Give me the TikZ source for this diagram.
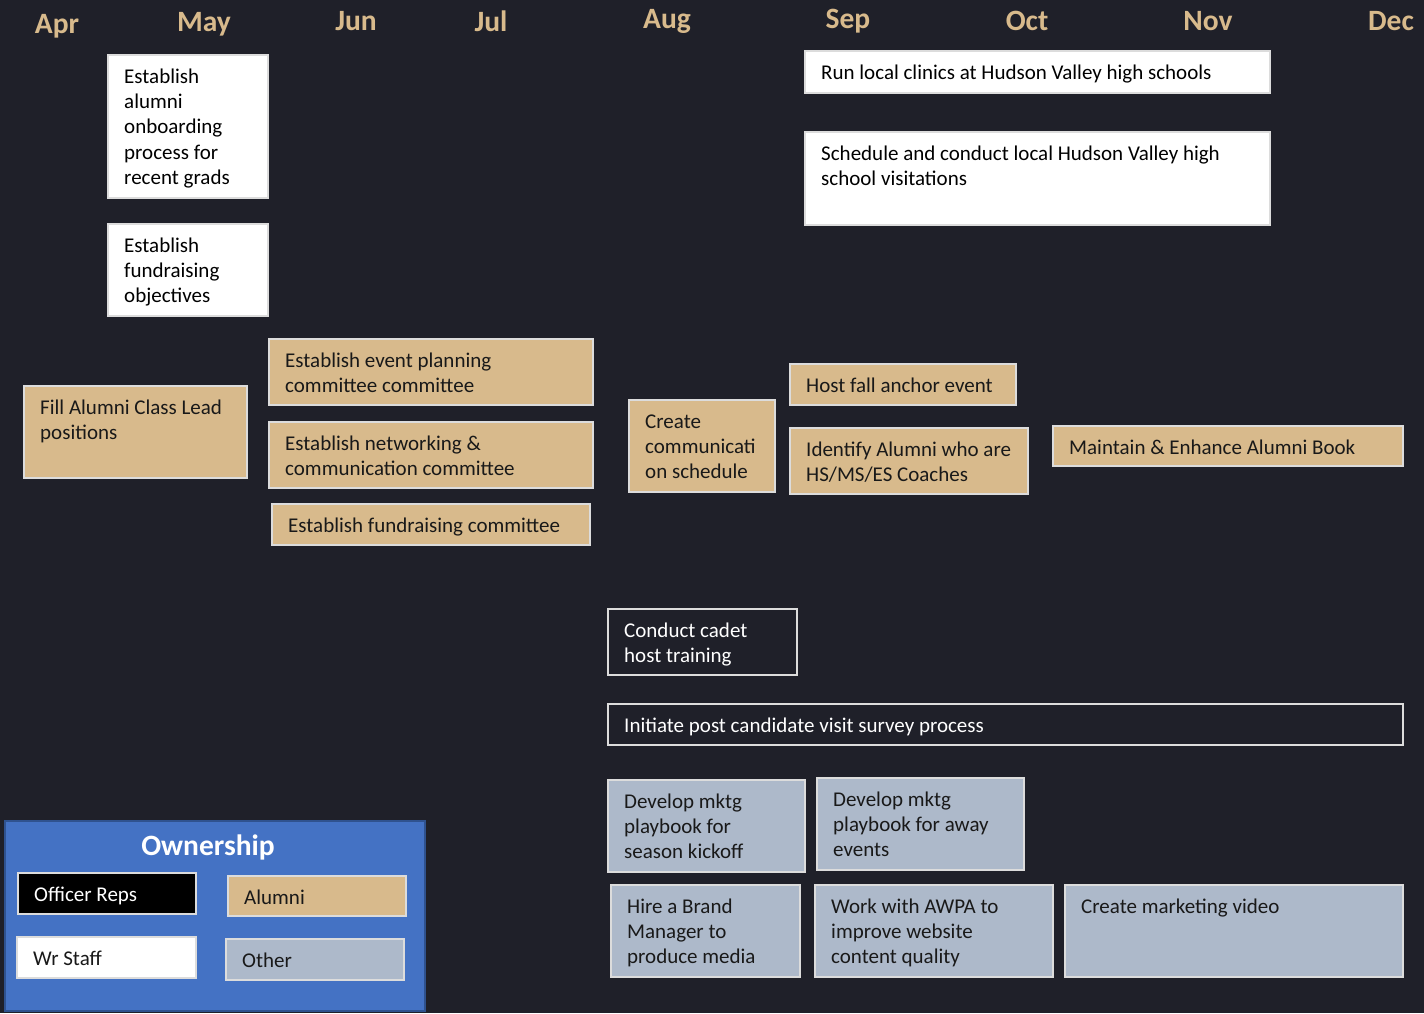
\documentclass[tikz,border=0pt]{standalone}
\usepackage{fontspec}
\setmainfont{Carlito}
\definecolor{bg}{RGB}{31,32,41}
\definecolor{tan}{RGB}{216,186,140}
\definecolor{oth}{RGB}{173,185,202}
\definecolor{legblue}{RGB}{68,114,196}
\definecolor{legedge}{RGB}{47,82,143}
\definecolor{edge}{RGB}{220,220,220}
\definecolor{ink}{RGB}{25,25,25}
\tikzset{
  boxbase/.style={rectangle, draw=edge, line width=1.3pt, inner sep=0pt, outer sep=0pt},
  wbox/.style={boxbase, fill=white},
  tbox/.style={boxbase, fill=tan},
  obox/.style={boxbase, fill=bg},
  gbox/.style={boxbase, fill=oth},
  blkbox/.style={boxbase, fill=black},
  lbl/.style={inner sep=0pt, align=left, font=\fontsize{21}{25.3}\selectfont},
  month/.style={text=tan, font=\fontsize{29.5}{32}\selectfont\bfseries, inner sep=0pt}
}
\newcommand\tb[8]{%
  \node[#2, minimum width=#6-#4, minimum height=#7-#5, anchor=north west] (#1) at (#4,#5) {};
  \node[lbl, text=#3, anchor=north west] (#1t) at (#4+16,#5+10.3) {\strut #8};
}
\begin{document}
\begin{tikzpicture}[x=1pt,y=-1pt]
\fill[bg] (0,0) rectangle (1424,1013);
\useasboundingbox (0,0) rectangle (1424,1013);
% months
\node[month] (apr) at (57,26) {Apr};
\node[month] (may) at (204,24) {May};
\node[month] (jun) at (356,21) {Jun};
\node[month] (jul) at (491,21) {Jul};
\node[month] (aug) at (667,21) {Aug};
\node[month] (sep) at (848,21) {Sep};
\node[month] (oct) at (1027,21) {Oct};
\node[month] (nov) at (1208,21) {Nov};
\node[month] (dec) at (1391,21) {Dec};
% white boxes
\tb{w1}{wbox}{black}{108}{55}{268}{198}{Establish\\alumni\\onboarding\\process for\\recent grads}
\tb{w2}{wbox}{black}{108}{224}{268}{316}{Establish\\fundraising\\objectives}
\tb{w3}{wbox}{black}{805}{51}{1270}{93}{Run local clinics at Hudson Valley high schools}
\tb{w4}{wbox}{black}{805}{132}{1270}{225}{Schedule and conduct local Hudson Valley high\\school visitations}
% tan boxes
\tb{a1}{tbox}{ink}{24}{386}{247}{478}{Fill Alumni Class Lead\\positions}
\tb{a2}{tbox}{ink}{269}{339}{593}{405}{Establish event planning\\committee committee}
\tb{a3}{tbox}{ink}{269}{422}{593}{488}{Establish networking \&\\communication committee}
\tb{a4}{tbox}{ink}{272}{504}{590}{545}{Establish fundraising committee}
\tb{a5}{tbox}{ink}{629}{400}{775}{492}{Create\\communicati\\on schedule}
\tb{a6}{tbox}{ink}{790}{364}{1016}{405}{Host fall anchor event}
\tb{a7}{tbox}{ink}{790}{428}{1028}{494}{Identify Alumni who are\\HS/MS/ES Coaches}
\tb{a8}{tbox}{ink}{1053}{426}{1403}{466}{Maintain \& Enhance Alumni Book}
% officer boxes
\tb{o1}{obox}{white}{608}{609}{797}{675}{Conduct cadet\\host training}
\tb{o2}{obox}{white}{608}{704}{1403}{745}{Initiate post candidate visit survey process}
% other boxes
\tb{g1}{gbox}{ink}{608}{780}{805}{872}{Develop mktg\\playbook for\\season kickoff}
\tb{g2}{gbox}{ink}{817}{778}{1024}{870}{Develop mktg\\playbook for away\\events}
\tb{g3}{gbox}{ink}{611}{885}{800}{977}{Hire a Brand\\Manager to\\produce media}
\tb{g4}{gbox}{ink}{815}{885}{1053}{977}{Work with AWPA to\\improve website\\content quality}
\tb{g5}{gbox}{ink}{1065}{885}{1403}{977}{Create marketing video}
% legend
\node[rectangle, fill=legblue, draw=legedge, line width=1.5pt, minimum width=420, minimum height=190, anchor=north west, inner sep=0pt] (leg) at (4,820) {};
\node[text=white, font=\fontsize{29.5}{32}\selectfont\bfseries, inner sep=0pt] (legt) at (208,847) {Ownership};
\tb{l1}{blkbox}{white}{18}{873}{196}{914}{Officer Reps}
\tb{l2}{tbox}{ink}{228}{876}{406}{916}{Alumni}
\tb{l3}{wbox}{ink}{17}{937}{196}{978}{Wr Staff}
\tb{l4}{gbox}{ink}{226}{939}{404}{980}{Other}
\end{tikzpicture}
\end{document}
